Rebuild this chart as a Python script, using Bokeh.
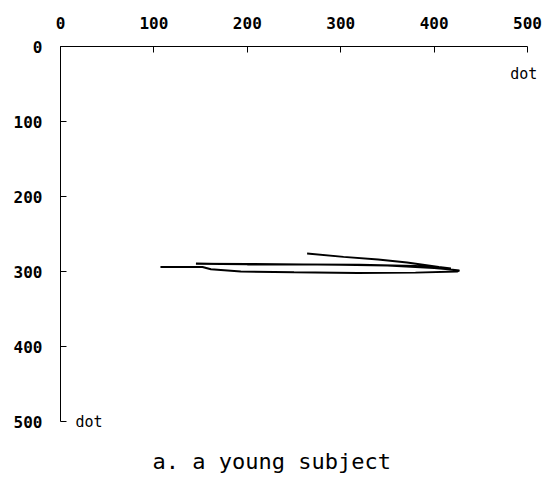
from bokeh.plotting import figure
from bokeh.models import Range1d, Label, Title, FixedTicker
from bokeh.embed import file_html
from bokeh.resources import INLINE

# trajectory (dot coordinates)
traj_x = [107, 152, 161, 193, 250, 318, 380, 425, 427, 415, 400, 350, 300, 250, 200, 145,
          200, 260, 320, 380, 410, 418, 405, 371, 340, 303, 264]
traj_y = [294, 294, 297, 300, 301, 302, 301.5, 300, 298.5, 297, 295.5, 292, 291, 290.5, 290.5, 289.6,
          290, 290.5, 291, 292.5, 295, 296, 294, 288, 284, 280.5, 276]
ticks = [0, 100, 200, 300, 400, 500]
unit_label = "dot"
caption = "a. a young subject"

p = figure(frame_width=482, frame_height=390, width=543, height=484,
           x_range=Range1d(0, 516), y_range=Range1d(520, 0),
           x_axis_location="above", y_axis_location="left",
           output_backend="svg", toolbar_location=None,
           min_border_left=60, min_border_right=1, min_border_top=46, min_border_bottom=48)
p.outline_line_color = None
p.grid.visible = False
p.background_fill_color = "white"
p.border_fill_color = "white"

for ax in (p.xaxis[0], p.yaxis[0]):
    ax.ticker = FixedTicker(ticks=ticks)
    ax.bounds = (0, 500)
    ax.minor_tick_line_color = None
    ax.major_tick_in = 6
    ax.major_tick_out = 0
    ax.axis_line_color = "black"
    ax.major_tick_line_color = "black"
    ax.major_label_text_font = "DejaVu Sans Mono"
    ax.major_label_text_font_style = "bold"
    ax.major_label_text_font_size = "16px"
    ax.major_label_text_color = "black"
    ax.major_label_standoff = 18

p.line(traj_x, traj_y, line_color="black", line_width=2)

p.add_layout(Label(x=496, y=37, text=unit_label, text_align="center", text_baseline="middle",
                   text_font="DejaVu Sans Mono", text_font_size="15px", text_color="black"))
p.add_layout(Label(x=16, y=500, text=unit_label, text_align="left", text_baseline="middle",
                   text_font="DejaVu Sans Mono", text_font_size="15px", text_color="black"))

p.add_layout(Title(text=caption, align="left", offset=92, text_font="DejaVu Sans Mono",
                   text_font_style="normal", text_font_size="22px", text_color="black",
                   standoff=20), "below")

open("out.html", "w").write(file_html(p, INLINE))
